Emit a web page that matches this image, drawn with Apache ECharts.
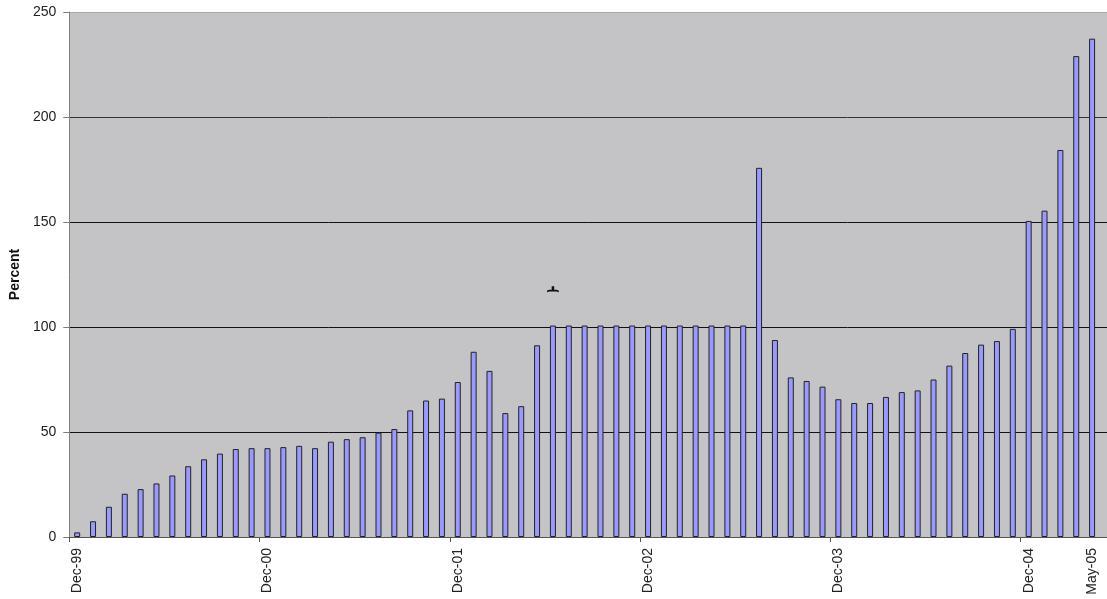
<!DOCTYPE html>
<html>
<head>
<meta charset="utf-8">
<script src="https://cdn.jsdelivr.net/npm/echarts@6/dist/echarts.min.js"></script>
<style>
  html, body { margin: 0; padding: 0; background: #ffffff; }
  #chart { width: 1107px; height: 599px; }
</style>
</head>
<body>
<div id="chart"></div>
<script>
// Monthly readings, Dec-99 onward (percent)
const values = [
  2.2, 7.5, 14.4, 20.6, 22.8, 25.5, 29.3, 33.7, 37.0, 39.7, 41.9, 42.3,
  42.3, 42.8, 43.4, 42.3, 45.4, 46.6, 47.5, 49.7, 51.4, 60.3, 65.0, 65.9,
  73.8, 88.2, 79.1, 59.0, 62.3, 91.3, 100.7, 100.7, 100.7, 100.7, 100.7, 100.7,
  100.7, 100.7, 100.7, 100.7, 100.7, 100.7, 100.7, 175.8, 93.8, 76.0, 74.3, 71.6,
  65.6, 63.8, 63.8, 66.7, 69.0, 69.8, 75.0, 81.6, 87.6, 91.6, 93.3, 99.1,
  150.5, 155.4, 184.3, 229.0, 237.3
];

// Date labels on the horizontal axis and the month index each one sits under
const tickLabels = ['Dec-99', 'Dec-00', 'Dec-01', 'Dec-02', 'Dec-03', 'Dec-04', 'May-05'];
const tickLabelPos = [0, 12, 24, 36, 48, 60, 64];
// Tick marks fall on the boundary before each December
const tickMarkPos = [-0.5, 11.5, 23.5, 35.5, 47.5, 59.5];

// Footnote marker placed over one month
const noteMonth = 30;
const noteLevel = 118;

const yTicks = [0, 50, 100, 150, 200, 250];

const FONT = '"Liberation Sans", Arial, sans-serif';

const chart = echarts.init(document.getElementById('chart'), null, { renderer: 'canvas' });

const option = {
  animation: false,
  backgroundColor: '#ffffff',
  grid: {
    left: 68, right: 0, top: 12, bottom: 62,
    show: true,
    backgroundColor: '#c4c3c6',
    borderWidth: 0
  },
  xAxis: {
    type: 'value',
    min: -0.5,
    max: 64.94,
    axisLine: { show: true, onZero: false, lineStyle: { color: '#555555', width: 1 } },
    splitLine: { show: false },
    axisTick: {
      show: true,
      customValues: tickMarkPos,
      length: 5,
      lineStyle: { color: '#555555' }
    },
    axisLabel: {
      customValues: tickLabelPos,
      formatter: function (v) {
        const i = tickLabelPos.indexOf(Math.round(v));
        return i >= 0 ? tickLabels[i] : '';
      },
      rotate: 90,
      margin: 11,
      fontSize: 14,
      fontFamily: FONT,
      color: '#222222'
    }
  },
  yAxis: {
    type: 'value',
    min: yTicks[0],
    max: yTicks[yTicks.length - 1],
    interval: 50,
    name: 'Percent',
    nameLocation: 'middle',
    nameGap: 47,
    nameTextStyle: { fontSize: 14, fontWeight: 'bold', fontFamily: FONT, color: '#111111' },
    axisLine: { show: true, onZero: false, lineStyle: { color: '#808080', width: 1 } },
    axisTick: { show: true, length: 6, lineStyle: { color: '#808080' } },
    axisLabel: {
      margin: 13,
      fontSize: 14,
      fontFamily: FONT,
      color: '#222222'
    },
    splitLine: {
      show: true,
      lineStyle: { color: ['#111111', '#111111', '#111111', '#111111', '#333333', '#a8a8a8'], width: 1 }
    }
  },
  series: [{
    type: 'bar',
    data: values.map((v, i) => [i, v]),
    barWidth: 6,
    itemStyle: { color: '#9999ff', borderColor: '#222222', borderWidth: 1 },
    markPoint: {
      silent: true,
      data: [{
        coord: [noteMonth, noteLevel],
        symbol: 'path://M0,12 C0,8.5 2,7 5,7 L9.5,7 L9.5,0 L14.5,0 L14.5,7 L19,7 C22,7 24,8.5 24,12 C22,11 20,10.5 17,10.5 L7,10.5 C4,10.5 2,11 0,12 Z',
        symbolSize: [12, 6],
        symbolKeepAspect: false,
        itemStyle: { color: '#111111' },
        label: { show: false }
      }]
    }
  }]
};

chart.setOption(option);
</script>
</body>
</html>
